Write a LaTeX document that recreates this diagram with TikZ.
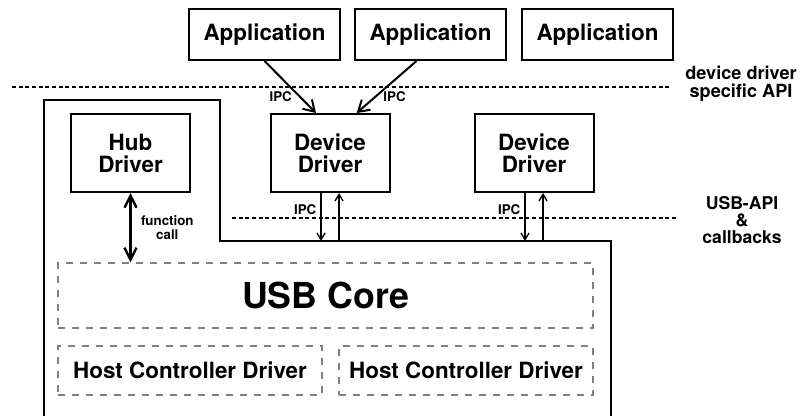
\documentclass[tikz,border=0pt]{standalone}
\usepackage{fontspec}
\setmainfont{TeX Gyre Heros}
\usetikzlibrary{positioning,arrows.meta}

\begin{document}
\begin{tikzpicture}[x=0.75pt, y=-0.75pt, font=\bfseries,
      >={Straight Barb[length=8pt, width=10pt]},
      box/.style={draw, line width=1.5pt, inner sep=0pt, align=center,
                  font=\bfseries\fontsize{16.8}{16.5}\selectfont},
      app/.style={box, minimum width=113.25pt, minimum height=38.25pt},
      drv/.style={box, minimum width=89.25pt, minimum height=58.5pt},
      layer/.style={draw=black!50, dash pattern=on 5.25pt off 5.25pt, line width=0.9pt,
                    inner sep=0pt, font=\bfseries\fontsize{16.8}{16.5}\selectfont},
      api/.style={line width=1pt, dash pattern=on 3pt off 2pt},
      small/.style={font=\bfseries\fontsize{10}{10.5}\selectfont, inner sep=1pt},
      side/.style={align=center, inner sep=0pt}]
    \useasboundingbox (0,0) rectangle (806,416);

    % user space
    \node[app] (app1) at (264.5,34.5) {Application};
    \node[app, right=9.75pt of app1] (app2) {Application};
    \node[app, right=10.5pt of app2] (app3) {Application};

    % drivers
    \node[drv] (hub) at (130.5,153) {Hub\\Driver};
    \node[drv] (dd1) at (330,153) {Device\\Driver};
    \node[drv] (dd2) at (534,153) {Device\\Driver};

    % usb core and host controllers
    \node[layer, minimum width=401.25pt, minimum height=48.75pt] (core) at (325.5,295.5)
      {\fontsize{26.8}{27}\selectfont USB Core};
    \node[layer, minimum width=198pt, minimum height=36.75pt] (hcd1) at (190,370.5)
      {Host Controller Driver};
    \node[layer, minimum width=190.5pt, minimum height=36.75pt] (hcd2) at (466,370.5)
      {Host Controller Driver};

    % kernel outline
    \coordinate (step) at (220,241);
    \draw[line width=2pt] (44,430) -- (44,100) -- (220,100) -- (step) -- (611,241) -- (611,430);

    % api levels
    \draw[api] (12,87) -- (670,87);
    \draw[api] (232,218) -- (677,218);
    \node[side, font=\bfseries\fontsize{13.6}{13.5}\selectfont] (devapi) at (741,84)
      {device driver\\specific API};
    \node[side, font=\bfseries\fontsize{13.2}{13}\selectfont] (usbapi) at (742,220)
      {USB-API\\\&\\callbacks};

    % connections
    \draw[->, line width=1.5pt] (app1.south) -- node[small, pos=0.68, left=4pt]{IPC}
      ([xshift=-10.5pt]dd1.north);
    \draw[->, line width=1.5pt] ([xshift=-10.5pt]app2.south) -- node[small, pos=0.68, right=4pt]{IPC}
      ([xshift=20pt]dd1.north);
    \draw[<->, line width=1.8pt, >={Straight Barb[length=9pt, width=9pt]}] (hub.south)
      -- node[small, right=6pt, align=center]{function\\call} (hub.south |- core.north);
    \foreach \d in {dd1,dd2}{
      \draw[->, line width=1pt, >={Straight Barb[length=5pt, width=6pt]}]
        ([xshift=-6.75pt]\d.south) -- node[small, pos=0.35, left=2pt]{IPC}
        ([xshift=-6.75pt]\d.south |- step);
      \draw[<-, line width=1pt, >={Straight Barb[length=5pt, width=6pt]}]
        ([xshift=6.75pt]\d.south) -- ([xshift=6.75pt]\d.south |- step);
    }
\end{tikzpicture}
\end{document}
